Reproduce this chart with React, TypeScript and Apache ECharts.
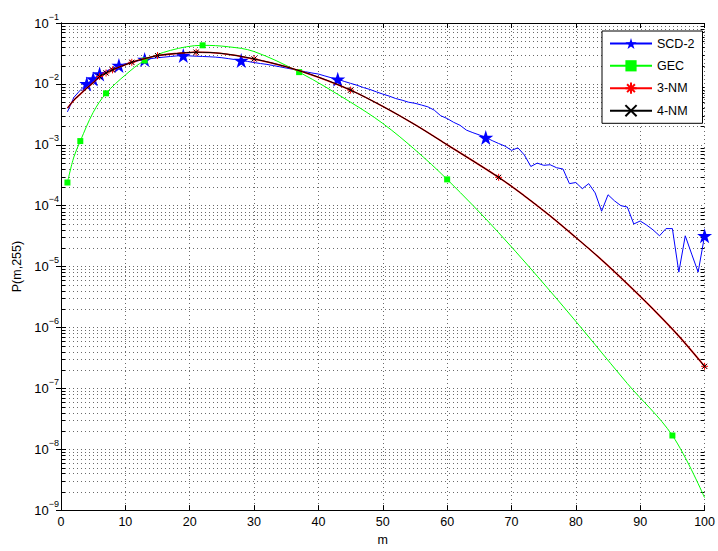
import React, { useEffect, useRef } from "react";
import * as echarts from "echarts";

// ---------- data ----------
const seriesNames = ["SCD-2", "GEC", "3-NM", "4-NM"];

// SCD-2: value at every m = 1..100
const scdValues = [
  3.47e-3, 6.0e-3, 7.9e-3, 1.0e-2, 1.2e-2, 1.45e-2, 1.62e-2, 1.82e-2, 2.0e-2, 2.14e-2,
  2.26e-2, 2.4e-2, 2.51e-2, 2.6e-2, 2.69e-2, 2.75e-2, 2.82e-2, 2.88e-2, 2.92e-2, 2.88e-2,
  2.85e-2, 2.82e-2, 2.79e-2, 2.75e-2, 2.69e-2, 2.6e-2, 2.51e-2, 2.42e-2, 2.34e-2, 2.24e-2,
  2.16e-2, 2.09e-2, 2.0e-2, 1.91e-2, 1.82e-2, 1.74e-2, 1.66e-2, 1.58e-2, 1.51e-2, 1.45e-2,
  1.35e-2, 1.26e-2, 1.19e-2, 1.1e-2, 1.02e-2, 9.5e-3, 8.7e-3, 8.1e-3, 7.4e-3, 6.8e-3,
  6.3e-3, 5.75e-3, 5.4e-3, 5.0e-3, 4.8e-3, 4.5e-3, 4.2e-3, 3.7e-3, 3.0e-3, 2.7e-3,
  2.34e-3, 2.09e-3, 1.74e-3, 1.58e-3, 1.45e-3, 1.32e-3, 1.17e-3, 1.05e-3, 9.5e-4, 8.1e-4,
  8.9e-4, 6.8e-4, 4.4e-4, 5.0e-4, 4.6e-4, 4.7e-4, 4.2e-4, 4.0e-4, 2.3e-4, 2.4e-4,
  1.9e-4, 2.3e-4, 1.62e-4, 8.1e-5, 1.51e-4, 1.2e-4, 1.0e-4, 9.5e-5, 5.0e-5, 5.6e-5,
  4.8e-5, 4.0e-5, 3.2e-5, 4.2e-5, 4.2e-5, 8.1e-6, 3.2e-5, 1.6e-5, 8.1e-6, 3.2e-5,
];
const scdMarkerM = [4, 5, 6, 9, 13, 19, 28, 43, 66, 100];

// GEC
const gecM = [1, 2, 3, 5, 7, 10, 13, 17, 22, 26, 30, 37, 45, 50, 55, 60, 68, 78, 88, 95, 100];
const gecValues = [
  2.4e-4, 6.3e-4, 1.15e-3, 3.4e-3, 7.0e-3, 1.4e-2, 2.42e-2, 3.55e-2, 4.3e-2, 4.07e-2, 3.4e-2,
  1.56e-2, 5.0e-3, 2.24e-3, 8.3e-4, 2.7e-4, 3.6e-5, 2.24e-6, 1.2e-7, 1.68e-8, 1.6e-9,
];
const gecMarkerM = [1, 3, 7, 13, 22, 37, 60, 95];

// 3-NM and 4-NM (curves overlap)
const nmM = [1, 2, 3, 4, 5, 6, 7, 8, 11, 13, 15, 18, 21, 25, 30, 35, 40, 45, 50, 55, 60, 68, 72, 76, 80, 84, 88, 92, 96, 100];
const nm3Values = [
  4.0e-3, 5.4e-3, 6.8e-3, 8.5e-3, 1.05e-2, 1.32e-2, 1.51e-2, 1.7e-2, 2.26e-2, 2.6e-2, 2.92e-2,
  3.16e-2, 3.31e-2, 3.16e-2, 2.57e-2, 1.91e-2, 1.29e-2, 7.9e-3, 4.27e-3, 2.14e-3, 1.0e-3,
  2.92e-4, 1.45e-4, 6.8e-5, 3.0e-5, 1.29e-5, 5.2e-6, 2.0e-6, 7.2e-7, 2.3e-7,
];
const nm4Values = [
  4.0e-3, 5.4e-3, 6.8e-3, 8.5e-3, 1.05e-2, 1.32e-2, 1.51e-2, 1.7e-2, 2.26e-2, 2.6e-2, 2.92e-2,
  3.16e-2, 3.31e-2, 3.16e-2, 2.57e-2, 1.91e-2, 1.29e-2, 7.9e-3, 4.27e-3, 2.14e-3, 1.0e-3,
  2.92e-4, 1.45e-4, 6.8e-5, 3.0e-5, 1.29e-5, 5.2e-6, 2.0e-6, 7.2e-7, 2.3e-7,
];
const nmMarkerM = [6, 7, 8, 11, 15, 21, 30, 45, 68, 100];

const xTicks = [0, 10, 20, 30, 40, 50, 60, 70, 80, 90, 100];
const yMin = 1e-9;
const yMax = 1e-1;

// ---------- styling ----------
const FONT = "'Liberation Sans', Arial, Helvetica, sans-serif";
const STAR =
  "path://M50,0 L61.2,34.5 L97.6,34.5 L68.2,55.9 L79.4,90.5 L50,69.1 L20.6,90.5 L31.8,55.9 L2.4,34.5 L38.8,34.5 Z";
const ASTERISK = "path://M5,0 L5,10 M0,5 L10,5 M1.5,1.5 L8.5,8.5 M8.5,1.5 L1.5,8.5";
const XMARK = "path://M0,0 L10,10 M10,0 L0,10";
const GRID_COLOR = "#6a6a6a";
const DASH = [1, 3];

function withMarkers(ms: number[], vals: number[], markers: number[]) {
  return ms.map((m, i) =>
    markers.includes(m) ? { value: [m, vals[i]] } : { value: [m, vals[i]], symbol: "none" }
  );
}

export default function App() {
  const ref = useRef<HTMLDivElement>(null);

  useEffect(() => {
    if (!ref.current) return;
    const chart = echarts.init(ref.current, undefined, { renderer: "svg" });

    // minor grid positions (2..9 x 10^k) for the log axis decoration
    const minorVals: number[][] = [];
    for (let k = -9; k <= -2; k++) {
      for (let d = 2; d <= 9; d++) minorVals.push([0, d * Math.pow(10, k)]);
    }

    const scdM = scdValues.map((_, i) => i + 1);

    const option: any = {
      animation: false,
      backgroundColor: "#fff",
      grid: { left: 61, top: 23, right: 11, bottom: 34, containLabel: false },
      legend: {
        data: seriesNames,
        orient: "vertical",
        left: 602,
        top: 31,
        itemWidth: 42,
        itemHeight: 14,
        itemGap: 9.3,
        padding: [6, 8, 6, 7],
        backgroundColor: "#fff",
        borderColor: "#000",
        borderWidth: 1,
        borderRadius: 0,
        textStyle: { fontSize: 12.5, fontFamily: FONT, color: "#000" },
      },
      xAxis: [
        {
          type: "value",
          min: xTicks[0],
          max: xTicks[xTicks.length - 1],
          interval: 10,
          position: "bottom",
          name: "m",
          nameLocation: "middle",
          nameGap: 16,
          nameTextStyle: { fontSize: 12.5, fontFamily: FONT, color: "#000" },
          axisLine: { show: true, lineStyle: { color: "#000", width: 1 } },
          axisTick: { show: true, inside: true, length: 5, lineStyle: { color: "#000" } },
          axisLabel: { color: "#000", fontSize: 12.5, fontFamily: FONT, margin: 5 },
          splitLine: { show: true, lineStyle: { color: GRID_COLOR, type: DASH, width: 1 } },
        },
        {
          type: "value",
          min: xTicks[0],
          max: xTicks[xTicks.length - 1],
          interval: 10,
          position: "top",
          axisLine: { show: true, lineStyle: { color: "#000", width: 1 } },
          axisTick: { show: true, inside: true, length: 5, lineStyle: { color: "#000" } },
          axisLabel: { show: false },
          splitLine: { show: false },
        },
      ],
      yAxis: [
        {
          type: "log",
          logBase: 10,
          min: yMin,
          max: yMax,
          position: "left",
          name: "P(m,255)",
          nameLocation: "middle",
          nameGap: 33,
          nameRotate: 90,
          nameTextStyle: { fontSize: 12.5, fontFamily: FONT, color: "#000" },
          axisLine: { show: true, lineStyle: { color: "#000", width: 1 } },
          axisTick: { show: true, inside: true, length: 5, lineStyle: { color: "#000" } },
          axisLabel: {
            margin: 2,
            formatter: (v: number) => {
              const e = Math.round(Math.log10(v));
              return `{b|10}{s|${e < 0 ? "\u2212" : ""}${Math.abs(e)}}`;
            },
            rich: {
              b: { fontSize: 13, fontFamily: FONT, color: "#000", lineHeight: 22 },
              s: { fontSize: 9, fontFamily: FONT, color: "#000", lineHeight: 10, verticalAlign: "top" },
            },
          },
          splitLine: { show: true, lineStyle: { color: GRID_COLOR, type: DASH, width: 1 } },
        },
        {
          type: "log",
          logBase: 10,
          min: yMin,
          max: yMax,
          position: "right",
          axisLine: { show: true, lineStyle: { color: "#000", width: 1 } },
          axisTick: { show: true, inside: true, length: 5, lineStyle: { color: "#000" } },
          axisLabel: { show: false },
          splitLine: { show: false },
        },
      ],
      series: [
        {
          type: "custom",
          name: "minorGrid",
          xAxisIndex: 0,
          yAxisIndex: 0,
          z: 1,
          silent: true,
          clip: false,
          data: minorVals,
          renderItem: (params: any, api: any) => {
            const v = api.value(1);
            const p0 = api.coord([0, v]);
            const p1 = api.coord([100, v]);
            const y = Math.round(p0[1]) + 0.5;
            return {
              type: "group",
              children: [
                {
                  type: "line",
                  shape: { x1: p0[0], y1: y, x2: p1[0], y2: y },
                  style: { stroke: GRID_COLOR, lineWidth: 1, lineDash: DASH },
                },
                {
                  type: "line",
                  shape: { x1: p0[0], y1: y, x2: p0[0] + 4, y2: y },
                  style: { stroke: "#000", lineWidth: 1 },
                },
                {
                  type: "line",
                  shape: { x1: p1[0] - 4, y1: y, x2: p1[0], y2: y },
                  style: { stroke: "#000", lineWidth: 1 },
                },
              ],
            };
          },
        },
        {
          name: seriesNames[0],
          type: "line",
          data: withMarkers(scdM, scdValues, scdMarkerM),
          symbol: STAR,
          symbolSize: 15,
          showAllSymbol: true,
          lineStyle: { color: "#0000ff", width: 1 },
          itemStyle: { color: "#0000ff" },
          z: 3,
        },
        {
          name: seriesNames[1],
          type: "line",
          data: withMarkers(gecM, gecValues, gecMarkerM),
          smooth: 0.35,
          symbol: "rect",
          symbolSize: 6,
          showAllSymbol: true,
          lineStyle: { color: "#00ff00", width: 1 },
          itemStyle: { color: "#00ff00" },
          z: 4,
        },
        {
          name: seriesNames[2],
          type: "line",
          data: withMarkers(nmM, nm3Values, nmMarkerM),
          smooth: 0.35,
          symbol: ASTERISK,
          symbolSize: 7,
          showAllSymbol: true,
          lineStyle: { color: "#ff0000", width: 1.6 },
          itemStyle: { color: "#ff0000", borderColor: "#ff0000", borderWidth: 1 },
          z: 5,
        },
        {
          name: seriesNames[3],
          type: "line",
          data: withMarkers(nmM, nm4Values, nmMarkerM),
          smooth: 0.35,
          symbol: XMARK,
          symbolSize: 5,
          showAllSymbol: true,
          lineStyle: { color: "#000000", width: 1 },
          itemStyle: { color: "#000000", borderColor: "#000000", borderWidth: 1 },
          z: 6,
        },
      ],
    };

    chart.setOption(option);
    return () => chart.dispose();
  }, []);

  return (
    <div
      ref={ref}
      style={{ position: "fixed", left: 0, top: 0, width: 718, height: 551, background: "#fff" }}
    />
  );
}
